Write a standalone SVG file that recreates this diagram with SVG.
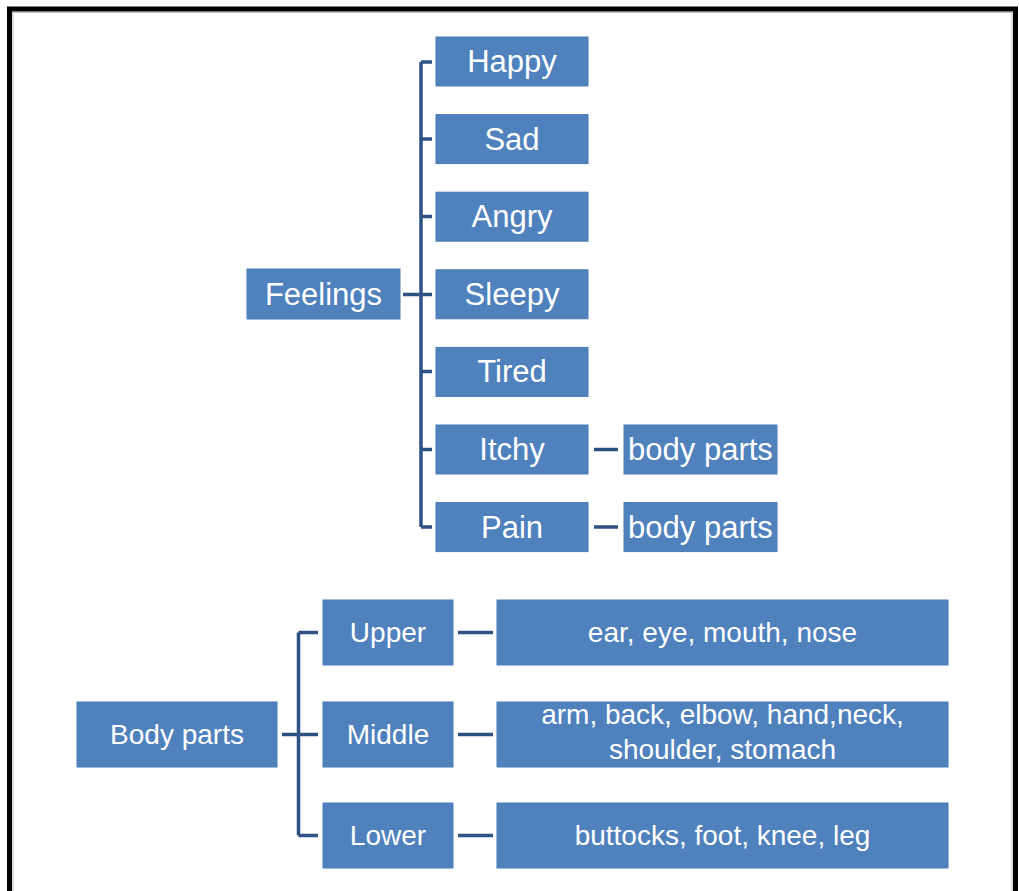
<svg xmlns="http://www.w3.org/2000/svg" width="1019" height="891" viewBox="0 0 1019 891">
<style>
.box{fill:#4F81BD;stroke:#4A7CB6;stroke-width:1}
.t{fill:#FFFFFF;font-family:"Liberation Sans",Arial,sans-serif;text-anchor:middle}
.l{font-size:31px}
.s{font-size:28px}
.c{fill:none;stroke:#2E5283;stroke-width:3.5}
</style>
<rect x="0" y="0" width="1019" height="891" fill="#FFFFFF"/>
<rect x="9.5" y="9" width="1006" height="900" fill="none" stroke="#000000" stroke-width="5"/>
<rect x="13" y="12.5" width="999" height="900" fill="none" stroke="#BBBBBB" stroke-width="1"/>
<g id="connectors">
<path class="c" d="M403,294.5H432 M421,62V527 M421,62H432 M421,139H432 M421,216.5H432 M421,294.5H432 M421,371.5H432 M421,449.5H432 M421,527H432"/>
<path class="c" d="M594,449.5H618 M594,527H618"/>
<path class="c" d="M282,734.5H318 M298.5,632.5V835.5 M298.5,632.5H318 M298.5,734.5H318 M298.5,835.5H318"/>
<path class="c" d="M458,632.5H493 M458,734.5H493 M458,835.5H493"/>
</g>
<g id="feelings"><rect class="box" x="247" y="269" width="153" height="50"/><text class="t l" x="323.5" y="305">Feelings</text></g>
<g id="happy"><rect class="box" x="436" y="37" width="152" height="49"/><text class="t l" x="512" y="72">Happy</text></g>
<g id="sad"><rect class="box" x="436" y="114.6" width="152" height="49"/><text class="t l" x="512" y="149.5">Sad</text></g>
<g id="angry"><rect class="box" x="436" y="192.2" width="152" height="49"/><text class="t l" x="512" y="227">Angry</text></g>
<g id="sleepy"><rect class="box" x="436" y="269.8" width="152" height="49"/><text class="t l" x="512" y="305">Sleepy</text></g>
<g id="tired"><rect class="box" x="436" y="347.4" width="152" height="49"/><text class="t l" x="512" y="382">Tired</text></g>
<g id="itchy"><rect class="box" x="436" y="425" width="152" height="49"/><text class="t l" x="512" y="460">Itchy</text></g>
<g id="pain"><rect class="box" x="436" y="502.6" width="152" height="49"/><text class="t l" x="512" y="537.5">Pain</text></g>
<g id="itchy-body"><rect class="box" x="624" y="425" width="153" height="49"/><text class="t l" x="700.5" y="460">body parts</text></g>
<g id="pain-body"><rect class="box" x="624" y="502.6" width="153" height="49"/><text class="t l" x="700.5" y="537.5">body parts</text></g>
<g id="bodyparts"><rect class="box" x="77" y="702" width="200" height="65"/><text class="t s" x="177" y="744">Body parts</text></g>
<g id="upper"><rect class="box" x="323" y="600" width="130" height="65"/><text class="t s" x="388" y="642">Upper</text></g>
<g id="middle"><rect class="box" x="323" y="702" width="130" height="65"/><text class="t s" x="388" y="744">Middle</text></g>
<g id="lower"><rect class="box" x="323" y="803" width="130" height="65"/><text class="t s" x="388" y="845">Lower</text></g>
<g id="upper-detail"><rect class="box" x="497" y="600" width="451" height="65"/><text class="t s" x="722.5" y="642">ear, eye, mouth, nose</text></g>
<g id="middle-detail"><rect class="box" x="497" y="702" width="451" height="65"/><text class="t s" x="722.5" y="724">arm, back, elbow, hand,neck,</text><text class="t s" x="722.5" y="759">shoulder, stomach</text></g>
<g id="lower-detail"><rect class="box" x="497" y="803" width="451" height="65"/><text class="t s" x="722.5" y="845">buttocks, foot, knee, leg</text></g>
</svg>
